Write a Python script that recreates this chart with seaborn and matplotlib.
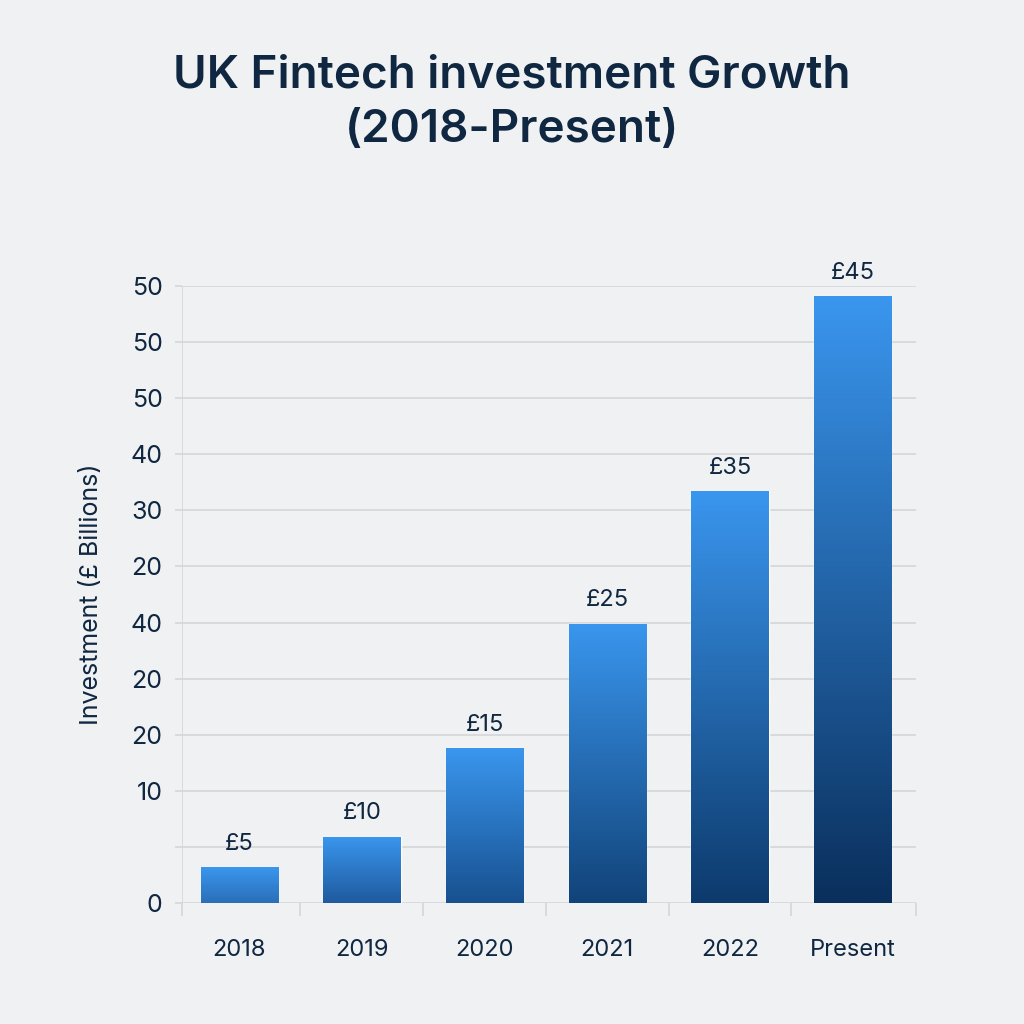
import matplotlib.pyplot as plt
import matplotlib.colors as mcolors
import seaborn as sns
import numpy as np

categories = ['2018', '2019', '2020', '2021', '2022', 'Present']
bar_heights = [3.2, 5.9, 13.8, 24.9, 36.7, 54.1]
bar_labels = ['£5', '£10', '£15', '£25', '£35', '£45']
# the axis in the picture repeats labels, so positions and labels are kept apart
tick_values = [0, 5, 10, 15, 20, 25, 30, 35, 40, 45, 50, 55]
tick_labels = ['0', '', '10', '20', '20', '40', '20', '30', '40', '50', '50', '50']

BG = '#f0f1f2'
INK = '#0f2740'
GRID = '#d4d6d9'
TOP_COLOR = '#3a96ee'
BOTTOM_COLORS = ['#2a6fb8', '#1f5a9e', '#17508f', '#114379', '#0d3a6c', '#0a2f5c']

sns.set_theme(style='white')
plt.rcParams['font.family'] = ['Inter', 'DejaVu Sans']

fig = plt.figure(figsize=(10.24, 10.24), dpi=100, facecolor=BG)
ax = fig.add_axes([182 / 1024, 1 - 903 / 1024, (916 - 182) / 1024, (903 - 286) / 1024])
ax.set_facecolor(BG)

sns.barplot(x=categories, y=bar_heights, color=TOP_COLOR, width=0.63, ax=ax, zorder=3)
bars = ax.containers[0]

# each bar gets its own vertical gradient, clipped to the bar
for bar, bottom in zip(bars, BOTTOM_COLORS):
    cmap = mcolors.LinearSegmentedColormap.from_list('bar', [TOP_COLOR, bottom])
    x0, w, h = bar.get_x(), bar.get_width(), bar.get_height()
    img = ax.imshow(np.linspace(0, 1, 256).reshape(-1, 1), cmap=cmap, aspect='auto',
                    extent=(x0, x0 + w, 0, h), origin='upper', zorder=3.5)
    img.set_clip_path(bar)

ax.bar_label(bars, labels=bar_labels, padding=9, fontsize=17, color=INK, zorder=5)

ax.set_xlim(-0.469, 5.518)
ax.set_ylim(0, 55)
sns.despine(ax=ax, left=True, bottom=True, top=True, right=True)

ax.set_yticks(tick_values)
ax.set_yticklabels(tick_labels)
ax.yaxis.grid(True, color=GRID, linewidth=1.2, zorder=0)
ax.tick_params(axis='y', length=5, width=1.2, color=GRID, labelsize=18, labelcolor=INK, pad=9, left=True)

ax.set_xticks(range(len(categories)))
ax.set_xticklabels(categories)
ax.tick_params(axis='x', length=0, labelsize=17, labelcolor=INK, pad=26)
ax.set_xticks([-0.469, 0.49, 1.5, 2.5, 3.5, 4.5, 5.518], minor=True)
ax.tick_params(axis='x', which='minor', length=9, width=1.2, color=GRID, bottom=True)

ax.axvline(-0.469, color=GRID, linewidth=1.2, zorder=1)
ax.set_xlabel('')
ax.set_ylabel('Investment (£ Billions)', fontsize=18, color=INK, labelpad=20)

fig.text(0.5, 1 - 76 / 1024, 'UK Fintech investment Growth', ha='center', va='center',
         fontsize=33, fontweight='semibold', color=INK)
fig.text(0.5, 1 - 130 / 1024, '(2018-Present)', ha='center', va='center',
         fontsize=33, fontweight='semibold', color=INK)

fig.savefig('out.png', dpi=100, facecolor=BG)
